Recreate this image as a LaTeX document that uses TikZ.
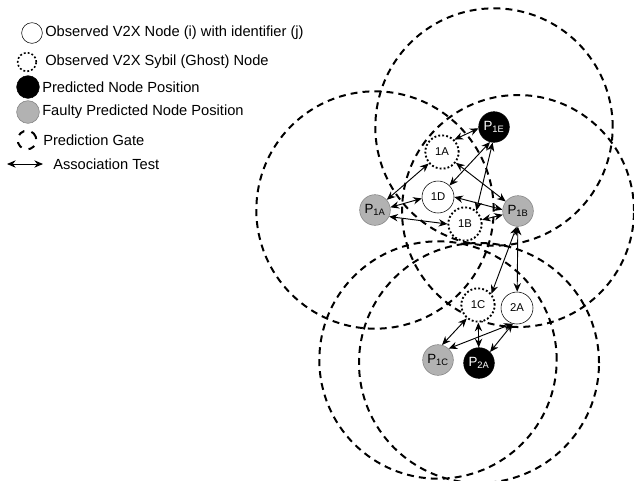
\documentclass[tikz,border=0pt]{standalone}
\usepackage{fontspec}
\setmainfont{Liberation Sans}
\usetikzlibrary{arrows.meta,backgrounds}
\begin{document}
\begin{tikzpicture}[x=0.75pt, y=-0.75pt, font=\fontsize{11}{13}\selectfont, line join=round, >={Stealth[length=6.5pt, width=5.5pt]},
	vnode/.style={circle, draw, fill=white, minimum size=24pt, inner sep=0pt, font=\fontsize{8.5}{10}\selectfont},
	ghost/.style={vnode, line width=1.4pt, dash pattern=on 1.4pt off 1.6pt, minimum size=25pt},
	pred/.style={circle, draw=black, fill=black, text=white, minimum size=23pt, inner sep=0pt, font=\fontsize{10}{12}\selectfont},
	faulty/.style={pred, draw=black!50, fill=black!30, text=black},
	gate/.style={line width=1.5pt, dash pattern=on 5.2pt off 3.8pt},
	assoc/.style={<->, line width=0.7pt},
	legtext/.style={anchor=west, inner sep=0pt}]
	\def\gr{89pt}
	\clip (0,0) rectangle (634,480);
	
	\node[vnode, minimum size=15.5pt] (kobs) at (32,33) {};
	\node[ghost, minimum size=14pt, line width=1.2pt] (kghost) at (27,62) {};
	\node[pred, minimum size=17pt] (kpred) at (28,87) {};
	\node[faulty, minimum size=17pt] (kfault) at (28,112) {};
	\node[circle, draw, gate, dash pattern=on 5pt off 5.5pt, minimum size=14pt, rotate=20] (kgate) at (27,140) {};
	\coordinate (ka) at (7,164);
	\coordinate (kb) at (43,164);
	\draw[assoc] (ka) -- (kb);
	\node[legtext] (tobs) at (45,33) {Observed V2X Node (i) with identifier (j)};
	\node[legtext] (tghost) at (45,62) {Observed V2X Sybil (Ghost) Node};
	\node[legtext] (tpred) at (42,87) {Predicted Node Position};
	\node[legtext] (tfault) at (42,112) {Faulty Predicted Node Position};
	\node[legtext] (tgate) at (43,140) {Prediction Gate};
	\node[legtext] (tassoc) at (53,164) {Association Test};
	
	\node[pred] (P1E) at (494,127) {P\textsubscript{1E}};
	\node[faulty] (P1A) at (375,210) {P\textsubscript{1A}};
	\node[faulty] (P1B) at (518,211) {P\textsubscript{1B}};
	\node[faulty] (P1C) at (438,360) {P\textsubscript{1C}};
	\node[pred] (P2A) at (479,363) {P\textsubscript{2A}};
	\node[ghost] (n1A) at (442,152) {1A};
	\node[vnode] (n1D) at (438,197) {1D};
	\node[ghost] (n1B) at (465,224) {1B};
	\node[ghost] (n1C) at (478,305) {1C};
	\node[vnode] (n2A) at (517,308) {2A};
	
	\begin{pgfonlayer}{background}
		\draw[gate] (P1E) circle (\gr) (P1A) circle (\gr) (P1B) circle (87pt)
		(P1C) circle (\gr) (P2A) circle (90pt);
	\end{pgfonlayer}
	
	\draw[assoc] (n1A.45) -- (P1E.185);
	\draw[assoc] (n1A) -- (P1A);
	\draw[assoc] (n1A) -- (P1B);
	\draw[assoc] (P1E.255) -- (n1D.45);
	\draw[assoc] (P1E.265) -- (n1B.50);
	\draw[assoc] (n1D.185) -- (P1A.10);
	\draw[assoc] (n1D.0) -- (P1B.175);
	\draw[assoc] (P1A.335) -- (n1B.180);
	\draw[assoc] (n1B) -- (P1B);
	\draw[assoc] (P1B.265) -- (n1C.40);
	\draw[assoc] (P1B) -- (n2A);
	\draw[assoc] (n1C.230) -- (P1C.75);
	\draw[assoc] (n1C) -- (P2A);
	\draw[assoc] (n2A.254) -- (P1C.47);
	\draw[assoc] (n2A.255) -- (P2A.45);
\end{tikzpicture}
\end{document}
